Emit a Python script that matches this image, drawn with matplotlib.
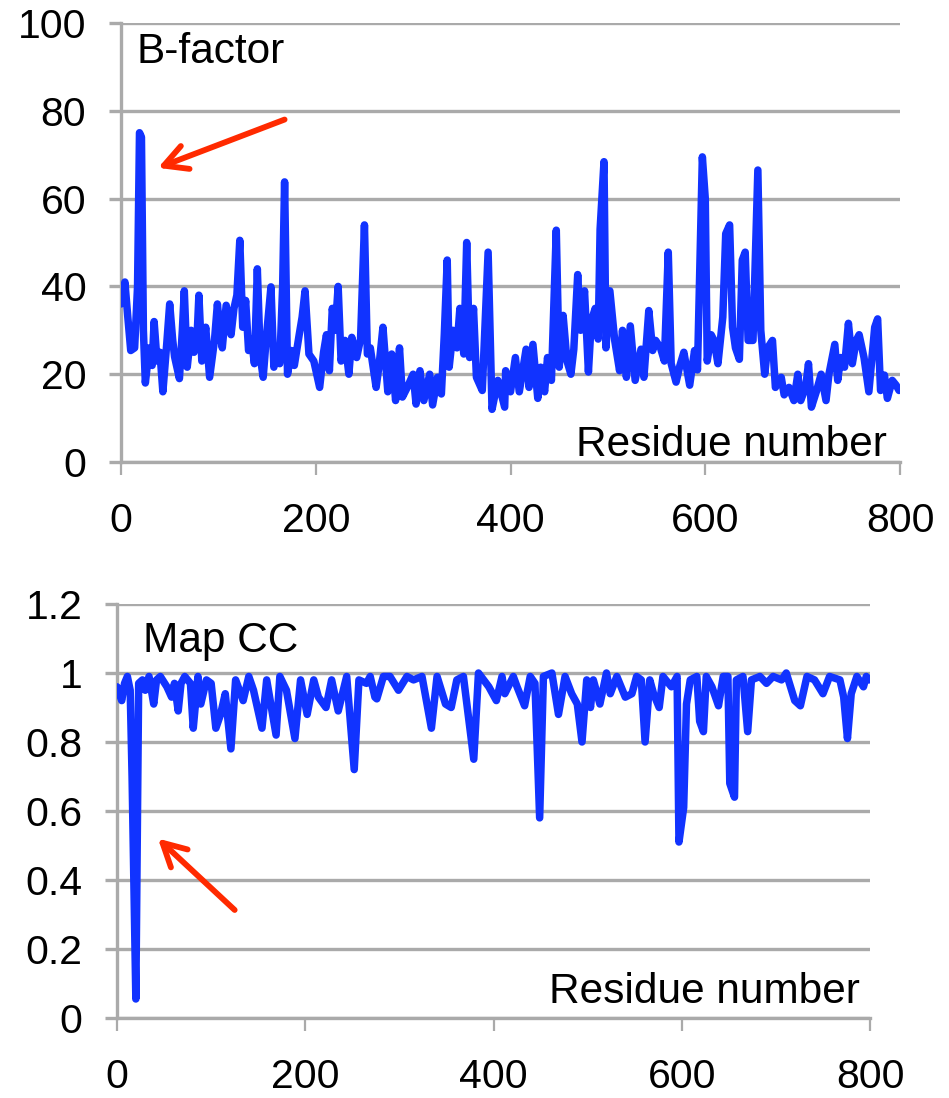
import matplotlib
matplotlib.use("Agg")
import matplotlib.pyplot as plt

plt.rcParams['font.family'] = ['Liberation Sans', 'DejaVu Sans']

# ---- data ----
bf_res = [0, 4, 7, 10, 14, 17, 19, 21, 23, 25, 29, 32, 34, 37, 40, 43, 47, 50, 53, 55, 58, 60, 63, 65, 68,
          72, 75, 78, 80, 83, 87, 91, 96, 99, 102, 104, 108, 113, 116, 119, 122, 125, 128, 131, 134, 137,
          140, 143, 146, 149, 154, 157, 160, 163, 166, 168, 171, 175, 178, 183, 186, 189, 193, 198, 201,
          204, 208, 211, 214, 217, 220, 223, 226, 230, 234, 237, 242, 246, 250, 253, 256, 262, 265, 269,
          274, 278, 282, 286, 289, 294, 300, 303, 307, 311, 317, 320, 325, 329, 332, 335, 337, 341, 345,
          348, 352, 355, 358, 362, 365, 371, 377, 381, 387, 394, 395, 400, 405, 409, 416, 419, 423, 428,
          431, 435, 438, 442, 447, 450, 454, 458, 462, 465, 469, 472, 476, 480, 483, 487, 490, 492, 496,
          498, 502, 507, 512, 515, 519, 523, 528, 534, 537, 542, 546, 549, 554, 558, 562, 565, 570, 574,
          578, 584, 589, 592, 597, 600, 602, 606, 609, 613, 618, 621, 625, 628, 631, 635, 638, 641, 644,
          649, 654, 657, 661, 664, 669, 672, 678, 681, 686, 691, 695, 698, 703, 706, 709, 714, 719, 724,
          727, 733, 736, 739, 743, 747, 751, 755, 758, 763, 768, 774, 777, 780, 784, 787, 792, 796, 799]
bf_val = [36, 41, 33, 25.4, 26, 40, 75, 74, 30, 18, 26, 22, 32, 23, 25, 16, 27, 36, 28, 24, 21, 19, 30, 39, 21.6,
          30, 25, 28, 38, 23, 30.7, 19.3, 27.7, 36, 29, 26, 35.7, 29, 35, 38, 50.5, 30.7, 36.8, 25.4, 28, 22.4,
          44, 24, 19.3, 27.7, 39.9, 21.6, 26, 22.4, 40, 63.8, 20, 25.4, 22, 29, 33, 39, 24.6, 23, 20,
          17, 25, 29, 20.8, 35, 30, 40, 23, 27.7, 20, 28.4, 23.8, 28, 54, 24.6, 26, 17, 22, 30.7,
          16, 24.6, 14, 26, 14.8, 17, 20, 13.2, 20.8, 14, 20, 13, 19.3, 15.5, 29, 46, 21.6, 30, 26,
          35, 24.6, 50, 23.8, 35, 19.3, 16.3, 47.8, 12, 18.6, 12.5, 20.8, 16, 23.8, 16, 25.7, 17, 26.8, 14.5,
          21.6, 16, 23.8, 18.6, 52.8, 21.6, 33.4, 23, 20, 25.7, 42.7, 30, 39, 20.5, 32.2, 35, 28, 53, 68.4,
          26, 39, 27.7, 20.8, 30, 19.3, 31, 18.6, 25.7, 19.3, 34.5, 25.4, 27.7, 26, 23, 47.8, 22.4, 18.2, 22,
          25, 17.5, 25.4, 21, 69.5, 60, 23, 29, 27.7, 22.4, 33, 52, 54, 30.7, 26, 23.4, 46, 47.8, 27.7,
          27.7, 66.5, 30, 20, 26, 27.7, 17, 19.3, 15.3, 17, 14, 20, 14, 17, 22.4, 12.5, 16, 20, 14,
          20, 26.8, 18.6, 23.8, 21.6, 31.6, 22.4, 27.7, 29, 23.8, 16, 30.7, 32.6, 16.3, 19.8, 14.5, 18.6, 17.5, 16.3]

cc_res = [0, 5, 8, 11, 14, 16, 20, 23, 27, 30, 34, 39, 42, 46, 53, 58, 61, 65, 68, 72, 78, 81, 86, 89, 95,
          100, 105, 110, 115, 121, 126, 134, 140, 145, 154, 159, 169, 173, 180, 189, 195, 202, 209, 214,
          222, 228, 235, 244, 252, 257, 265, 269, 274, 276, 283, 290, 299, 308, 315, 324, 334, 340, 349,
          355, 361, 368, 379, 384, 395, 403, 409, 412, 421, 425, 433, 439, 444, 449, 453, 462, 469, 476,
          483, 489, 494, 499, 503, 506, 513, 520, 524, 531, 540, 547, 552, 557, 561, 566, 570, 576, 580,
          589, 595, 597, 602, 605, 609, 616, 619, 623, 626, 632, 639, 644, 649, 651, 656, 658, 665, 670,
          674, 683, 690, 697, 706, 711, 720, 726, 733, 741, 750, 757, 768, 772, 776, 780, 786, 793, 796, 799]
cc_val = [0.96, 0.92, 0.97, 0.99, 0.95, 0.70, 0.055, 0.97, 0.98, 0.95, 0.99, 0.91, 0.98, 0.99, 0.96, 0.93,
          0.97, 0.89, 0.97, 0.99, 0.97, 0.84, 0.99, 0.91, 0.98, 0.97, 0.84, 0.88, 0.94, 0.78, 0.98, 0.92,
          0.99, 0.95, 0.84, 0.98, 0.82, 0.99, 0.95, 0.81, 0.98, 0.88, 0.98, 0.93, 0.90, 0.98, 0.89, 0.99,
          0.72, 0.98, 0.97, 0.99, 0.93, 0.925, 0.99, 0.99, 0.95, 0.99, 0.98, 0.99, 0.84, 0.99, 0.91, 0.90,
          0.98, 0.99, 0.75, 1.0, 0.96, 0.92, 0.99, 0.94, 0.99, 0.96, 0.905, 0.99, 0.97, 0.58, 0.99, 1.0,
          0.88, 0.99, 0.94, 0.91, 0.80, 0.98, 0.90, 0.98, 0.91, 1.0, 0.94, 0.99, 0.93, 0.94, 0.99, 0.98,
          0.80, 0.98, 0.94, 0.90, 0.99, 0.96, 0.99, 0.51, 0.61, 0.91, 0.98, 0.99, 0.86, 0.83, 0.99, 0.96,
          0.905, 0.99, 0.99, 0.68, 0.64, 0.98, 0.99, 0.83, 0.98, 0.99, 0.97, 0.99, 0.98, 1.0, 0.92, 0.905,
          0.99, 0.98, 0.94, 0.99, 0.98, 0.93, 0.81, 0.94, 0.99, 0.96, 0.99, 0.98]

x_ticks = [0, 200, 400, 600, 800]
bf_ticks = [0, 20, 40, 60, 80, 100]
cc_ticks = [0, 0.2, 0.4, 0.6, 0.8, 1.0, 1.2]
cc_labels = ['0', '0.2', '0.4', '0.6', '0.8', '1', '1.2']

LINE = '#1133FF'
GRID = '#AAAAAA'
ARROW = '#FF2A00'
FS_TICK = 29.5
FS_TEXT = 30.5

fig = plt.figure(figsize=(9.49, 10.98), dpi=100)
ax1 = fig.add_axes([0.1275, 0.5792, 0.8209, 0.3999])
ax2 = fig.add_axes([0.1233, 0.0729, 0.7935, 0.3770])


def style(ax, yticks, ylabels, ymax):
    ax.set_xlim(0, 800)
    ax.set_ylim(0, ymax)
    ax.set_xticks(x_ticks)
    ax.set_xticklabels([str(t) for t in x_ticks])
    ax.set_yticks(yticks)
    ax.set_yticklabels(ylabels)
    ax.grid(axis='y', color=GRID, lw=2.4, zorder=0)
    ax.set_axisbelow(True)
    for s in ['top', 'right']:
        ax.spines[s].set_visible(False)
    for s in ['left', 'bottom']:
        ax.spines[s].set_color(GRID)
        ax.spines[s].set_linewidth(2.4)
    ax.tick_params(axis='x', length=9, width=1.6, color=GRID, pad=20, labelsize=FS_TICK)
    ax.tick_params(axis='y', length=9, width=2.4, color=GRID, pad=16, labelsize=FS_TICK)


ARROW_PROPS = dict(arrowstyle='->,head_length=0.75,head_width=0.4', color=ARROW, lw=4.2,
                   mutation_scale=22, shrinkA=0, shrinkB=0)

style(ax1, bf_ticks, [str(t) for t in bf_ticks], 100)
ax1.plot(bf_res, bf_val, color=LINE, lw=5.4, solid_joinstyle='round', solid_capstyle='round', zorder=3)
ax1.text(0.02, 0.909, 'B-factor', transform=ax1.transAxes, fontsize=FS_TEXT, va='baseline', ha='left')
ax1.text(0.983, 0.014, 'Residue number', transform=ax1.transAxes, fontsize=FS_TEXT, va='baseline', ha='right')
ax1.annotate('', xy=(38, 67), xytext=(168, 78), arrowprops=ARROW_PROPS)

style(ax2, cc_ticks, cc_labels, 1.2)
ax2.plot(cc_res, cc_val, color=LINE, lw=5.4, solid_joinstyle='round', solid_capstyle='round', zorder=3)
ax2.text(0.035, 0.884, 'Map CC', transform=ax2.transAxes, fontsize=FS_TEXT, va='baseline', ha='left')
ax2.text(0.987, 0.036, 'Residue number', transform=ax2.transAxes, fontsize=FS_TEXT, va='baseline', ha='right')
ax2.annotate('', xy=(43.5, 0.52), xytext=(125, 0.313), arrowprops=ARROW_PROPS)

fig.savefig('out.png', dpi=100)
